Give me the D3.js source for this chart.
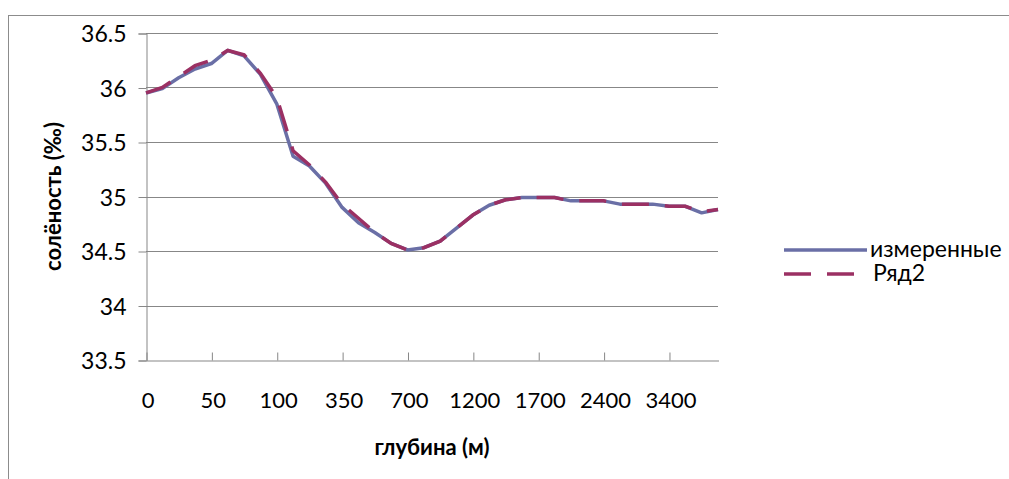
<!DOCTYPE html>
<html>
<head>
<meta charset="utf-8">
<script src="https://cdn.jsdelivr.net/npm/d3@7"></script>
<style>
  body { margin: 0; background: #fff; }
  svg { font-family: Lato, "Open Sans", sans-serif; }
</style>
</head>
<body>
<div id="chart"></div>
<script>
// depth levels (category axis), every 4th one gets a label
var depths = ["0","10","20","30","50","60","75","90","100","150","200","250","350","400","500","600",
              "700","800","900","1000","1200","1300","1400","1500","1700","1800","2000","2200","2400",
              "2600","2800","3000","3400","3600","3800","4000"];

var measured = [35.95, 35.99, 36.09, 36.17, 36.22, 36.34, 36.29, 36.12, 35.85, 35.37, 35.28, 35.12,
                34.90, 34.76, 34.67, 34.57, 34.51, 34.53, 34.59, 34.71, 34.83, 34.92, 34.97, 34.99,
                34.99, 34.99, 34.96, 34.96, 34.96, 34.93, 34.93, 34.93, 34.91, 34.91, 34.85, 34.88];

var ryad2 = [35.95, 36.00, 36.10, 36.20, 36.25, 36.34, 36.30, 36.13, 35.91, 35.42, 35.29, 35.13,
             34.93, 34.80, 34.67, 34.57, 34.51, 34.53, 34.59, 34.71, 34.83, 34.92, 34.97, 34.99,
             34.99, 34.99, 34.96, 34.96, 34.96, 34.93, 34.93, 34.93, 34.91, 34.91, 34.86, 34.88];

var yTicks = [33.5, 34, 34.5, 35, 35.5, 36, 36.5];

var width = 1009, height = 479;
// plot area (window.top is reserved, so no "top" here)
var plotL = 146, plotR = 718, plotT = 33, plotB = 360;

var svg = d3.select("#chart").append("svg")
    .attr("width", width)
    .attr("height", height);

// chart frame
svg.append("rect")
    .attr("x", 8.5).attr("y", 15.5)
    .attr("width", 1100).attr("height", 600)
    .attr("fill", "none")
    .attr("stroke", "#8c8c8c");

var x = d3.scalePoint()
    .domain(depths)
    .range([plotL, plotR]);

var y = d3.scaleLinear()
    .domain([33.5, 36.5])
    .range([plotB, plotT]);

// horizontal gridlines
svg.append("g")
    .selectAll("line")
    .data(yTicks.slice(1))
    .enter().append("line")
      .attr("x1", plotL).attr("x2", plotR)
      .attr("y1", function(d) { return Math.round(y(d)) + 0.5; })
      .attr("y2", function(d) { return Math.round(y(d)) + 0.5; })
      .attr("stroke", "#878787");

// y axis
var yAxis = svg.append("g")
    .attr("transform", "translate(" + (plotL + 0.5) + ",0.5)")
    .call(d3.axisLeft(y).tickValues(yTicks).tickSize(8).tickPadding(12).tickFormat(function(d) { return d; }));
yAxis.select(".domain").attr("stroke", "#878787");
yAxis.selectAll(".tick line").attr("stroke", "#878787");
yAxis.selectAll("text")
    .attr("font-size", "23px")
    .attr("font-family", "Lato, 'Open Sans', sans-serif")
    .attr("fill", "#000")
    .attr("dy", "0.36em");

// x axis, ticks pointing up
var xAxis = svg.append("g")
    .attr("transform", "translate(0.5," + (plotB + 0.5) + ")")
    .call(d3.axisBottom(x)
        .tickValues(depths.filter(function(d, i) { return i % 4 === 0; }))
        .tickSizeInner(-8).tickSizeOuter(0));
xAxis.select(".domain").attr("stroke", "#878787");
xAxis.selectAll(".tick line").attr("stroke", "#878787");
xAxis.selectAll("text")
    .attr("font-size", "22px")
    .attr("font-family", "Lato, 'Open Sans', sans-serif")
    .attr("fill", "#000")
    .attr("x", 1)
    .attr("y", 40)
    .attr("dy", "0.36em");

var line = d3.line()
    .x(function(d, i) { return x(depths[i]); })
    .y(function(d) { return y(d); });

svg.append("path")
    .datum(measured)
    .attr("d", line)
    .attr("fill", "none")
    .attr("stroke", "#6a6fa6")
    .attr("stroke-width", 3.5)
    .attr("stroke-linejoin", "round");

svg.append("path")
    .datum(ryad2)
    .attr("d", line)
    .attr("fill", "none")
    .attr("stroke", "#9b3063")
    .attr("stroke-width", 3.5)
    .attr("stroke-dasharray", "27,16");

// axis titles
svg.append("text")
    .attr("transform", "translate(61," + ((plotT + plotB) / 2) + ") rotate(-90)")
    .attr("text-anchor", "middle")
    .attr("font-size", "22px")
    .attr("font-weight", "bold")
    .text("солёность (‰)");

svg.append("text")
    .attr("x", (plotL + plotR) / 2)
    .attr("y", 455)
    .attr("text-anchor", "middle")
    .attr("font-size", "22px")
    .attr("font-weight", "bold")
    .text("глубина (м)");

// legend
var legend = [
  {name: "измеренные", color: "#6a6fa6", dash: null, y: 250},
  {name: "Ряд2", color: "#9b3063", dash: "27,16", y: 274}
];
var lg = svg.append("g").selectAll("g").data(legend).enter().append("g");
lg.append("line")
    .attr("x1", 784).attr("x2", function(d) { return d.dash ? 857 : 867; })
    .attr("y1", function(d) { return d.y; }).attr("y2", function(d) { return d.y; })
    .attr("stroke", function(d) { return d.color; })
    .attr("stroke-width", 3.5)
    .attr("stroke-dasharray", function(d) { return d.dash; });
lg.append("text")
    .attr("x", function(d) { return d.dash ? 873 : 870; })
    .attr("y", function(d) { return d.y; })
    .attr("dy", "0.32em")
    .attr("font-size", "23px")
    .text(function(d) { return d.name; });
</script>
</body>
</html>
